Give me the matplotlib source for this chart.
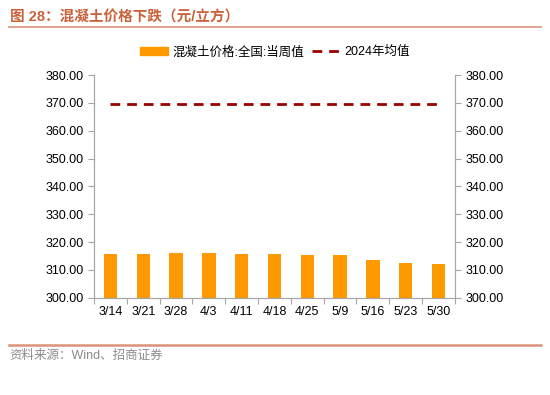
import matplotlib
matplotlib.use("Agg")
import matplotlib.pyplot as plt
from matplotlib.lines import Line2D
from matplotlib.patches import Patch

plt.rcParams['font.family'] = ['Liberation Sans', 'Noto Sans CJK SC', 'DejaVu Sans']

dates = ["3/14", "3/21", "3/28", "4/3", "4/11", "4/18", "4/25", "5/9", "5/16", "5/23", "5/30"]
weekly_price = [315.6, 315.8, 316.1, 316.0, 315.7, 315.7, 315.4, 315.4, 313.6, 312.6, 312.2]
avg_2024 = [369.6] * len(dates)

title = "图 28：混凝土价格下跌（元/立方）"
source = "资料来源：Wind、招商证券"
bar_label = "混凝土价格:全国:当周值"
line_label = "2024年均值"

bar_color = "#FF9900"
line_color = "#990000"
accent = "#C8623A"
rule_color = "#DA927A"
axis_color = "#A6A6A6"

fig = plt.figure(figsize=(5.5, 3.95), dpi=100)
ax = fig.add_axes([0.171, 0.246, 0.656, 0.564])
ax2 = ax.twinx()

x = list(range(len(dates)))
ax.bar(x, weekly_price, width=0.41, color=bar_color, zorder=2)
ax.plot(x, avg_2024, color=line_color, linestyle=(0, (3.5, 2.5)), linewidth=2, zorder=3)

for a in (ax, ax2):
    a.set_ylim(300, 380)
    a.set_yticks(range(300, 381, 10))
    a.set_yticklabels([f"{v:.2f}" for v in range(300, 381, 10)], fontsize=9)
    a.spines['top'].set_visible(False)
    for s in ('left', 'right', 'bottom'):
        a.spines[s].set_color(axis_color)
    a.tick_params(axis='y', colors=axis_color, labelcolor='black', length=4)

ax.set_xlim(-0.5, len(dates) - 0.5)
ax.set_xticks([i - 0.5 for i in range(len(dates) + 1)], minor=False)
ax.set_xticklabels([])
ax.set_xticks(x, minor=True)
ax.set_xticklabels(dates, minor=True, fontsize=9)
ax.tick_params(axis='x', which='major', colors=axis_color, length=4)
ax.tick_params(axis='x', which='minor', length=0, pad=6)

handles = [Patch(color=bar_color, label=bar_label),
           Line2D([], [], color=line_color, linestyle=(0, (3.5, 2.5)), linewidth=2, label=line_label)]
fig.legend(handles=handles, loc='center', bbox_to_anchor=(0.5, 0.868), ncol=2, frameon=False,
           fontsize=9, handlelength=2.2, handleheight=0.6, columnspacing=0.6, handletextpad=0.4)

fig.text(0.018, 0.957, title, fontsize=10.5, fontweight='bold', color=accent, va='center')
fig.add_artist(Line2D([0.016, 0.984], [0.932, 0.932], color=rule_color, linewidth=1.2))
fig.add_artist(Line2D([0.016, 0.984], [0.127, 0.127], color=rule_color, linewidth=1.8))
fig.text(0.018, 0.1, source, fontsize=9, color="#8C8C8C", va='center')

fig.savefig("out.png", dpi=100)
